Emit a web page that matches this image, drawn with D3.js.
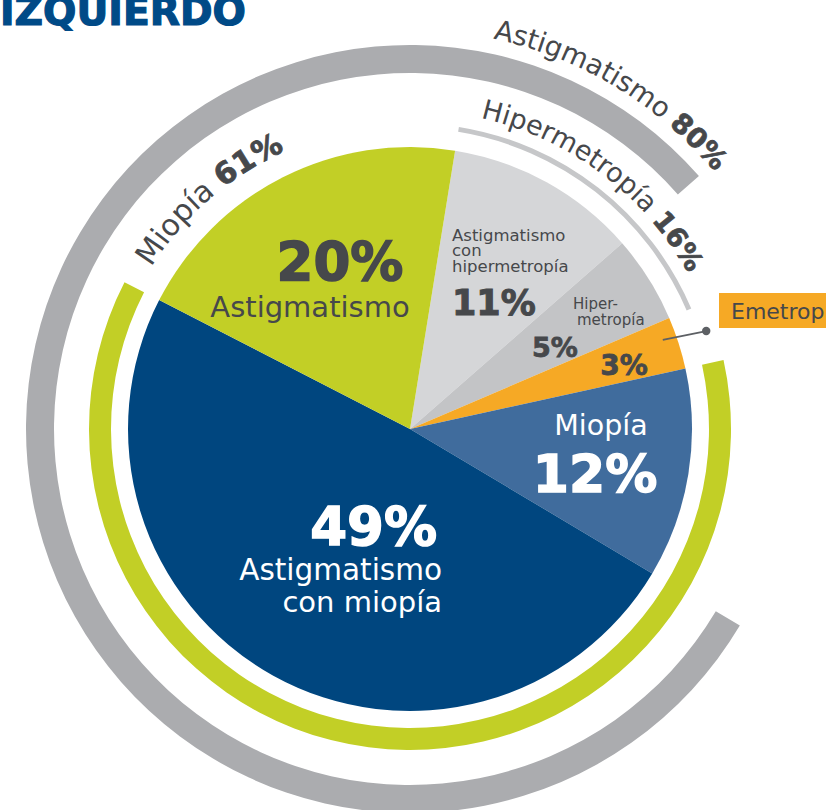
<!DOCTYPE html>
<html>
<head>
<meta charset="utf-8">
<script src="https://cdn.jsdelivr.net/npm/d3@7"></script>
<style>
  html, body { margin: 0; padding: 0; background: #ffffff; overflow: hidden; }
  svg { display: block; }
</style>
</head>
<body>
<svg id="chart"></svg>
<script>
/////////////// Data ///////////////
const categories = ["Astigmatismo con hipermetropía", "Hipermetropía", "Emetropía", "Miopía", "Astigmatismo con miopía", "Astigmatismo"];
const values = [11, 5, 3, 12, 49, 20];
const sliceColors = ["#d5d6d8", "#c3c4c6", "#f6a925", "#406c9d", "#00467f", "#c2cf26"];

// outer rings: which slices each one wraps
const groupNames = ["Astigmatismo", "Miopía", "Hipermetropía"];
const groupValues = [80, 61, 16];
const groupMembers = [[4, 5, 0], [3, 4], [0, 1]];

/////////////// Layout ///////////////
const width = 826, height = 810;
const cx = 410, cy = 429;
const rPie = 282;
const startDeg = 9.2;
const darkText = "#46484b";
const regFont = "'DejaVu Sans', Verdana, sans-serif";
const boldFont = "'DejaVu Sans', Verdana, sans-serif";
const heavy = 0.028; // extra stroke (per px of font size) to mimic a black weight

// ring styles per group
const ringStyle = [
  { inner: 356, outer: 384, color: "#abacaf", labelR: 399, labelDeg: 12, size: 27.5 },
  { inner: 299, outer: 321, color: "#c2cf26", labelR: 305, labelDeg: 302, size: 30 },
  { inner: 301, outer: 306, color: "#c6c7c9", labelR: 319, labelDeg: 12.8, size: 27 }
];

const rad = d => d * Math.PI / 180;
const pt = (deg, r) => [cx + r * Math.sin(rad(deg)), cy - r * Math.cos(rad(deg))];

const svg = d3.select("#chart").attr("width", width).attr("height", height);
const defs = svg.append("defs");

/////////////// Pie ///////////////
const pie = d3.pie().sort(null).value(d => d)
  .startAngle(rad(startDeg)).endAngle(rad(startDeg) + 2 * Math.PI);
const arcs = pie(values);
const arcGen = d3.arc().innerRadius(0).outerRadius(rPie);

const pieG = svg.append("g").attr("transform", `translate(${cx},${cy})`);
pieG.selectAll("path.slice")
  .data(arcs)
  .join("path")
    .attr("class", "slice")
    .attr("d", arcGen)
    .attr("fill", (d, i) => sliceColors[i]);

/////////////// Outer rings ///////////////
const groups = groupMembers.map((m, i) => {
  const s = arcs[m[0]].startAngle;
  let e = arcs[m[m.length - 1]].endAngle;
  if (e <= s) e += 2 * Math.PI;
  return { name: groupNames[i], value: groupValues[i], start: s, end: e, style: ringStyle[i] };
});

pieG.selectAll("path.ring")
  .data(groups)
  .join("path")
    .attr("class", "ring")
    .attr("d", d => d3.arc()
      .innerRadius(d.style.inner).outerRadius(d.style.outer)
      .startAngle(d.start).endAngle(d.end)())
    .attr("fill", d => d.style.color);

// curved labels for rings
groups.forEach((g, i) => {
  const a0 = g.style.labelDeg, r = g.style.labelR;
  const p0 = pt(a0, r), p1 = pt(a0 + 170, r);
  defs.append("path")
    .attr("id", "ringPath" + i)
    .attr("d", `M${p0[0]},${p0[1]} A${r},${r} 0 0 1 ${p1[0]},${p1[1]}`);
  const t = svg.append("text")
    .attr("fill", darkText)
    .attr("font-size", g.style.size)
    .append("textPath")
      .attr("href", "#ringPath" + i);
  t.append("tspan").attr("font-family", regFont).text(g.name + " ");
  t.append("tspan")
    .attr("font-family", boldFont).attr("font-weight", 700)
    .attr("stroke", darkText).attr("stroke-width", g.style.size * heavy)
    .text(g.value + "%");
});

/////////////// Slice labels ///////////////
// each entry: lines of text with position and style
const sliceLabels = [
  { x: 452, anchor: "start", fill: darkText, lines: [
    { t: "Astigmatismo", y: 241, size: 16.5, bold: false },
    { t: "con", y: 256, size: 16.5, bold: false },
    { t: "hipermetropía", y: 272, size: 16.5, bold: false },
    { t: values[0] + "%", y: 315, size: 35, bold: true } ] },
  { x: 573, anchor: "start", fill: darkText, lines: [
    { t: "Hiper-", y: 309, size: 15, bold: false },
    { t: "metropía", y: 325, size: 15, bold: false, dx: 4 } ] },
  { x: 555, anchor: "middle", fill: darkText, lines: [
    { t: values[1] + "%", y: 357, size: 27, bold: true } ] },
  { x: 624, anchor: "middle", fill: darkText, lines: [
    { t: values[2] + "%", y: 375, size: 28, bold: true } ] },
  { x: 601, anchor: "middle", fill: "#ffffff", lines: [
    { t: "Miopía", y: 435, size: 28.5, bold: false },
    { t: values[3] + "%", y: 492, size: 52, bold: true, dx: -6 } ] },
  { x: 442, anchor: "end", fill: "#ffffff", lines: [
    { t: values[4] + "%", y: 545, size: 53, bold: true, dx: -5 },
    { t: "Astigmatismo", y: 580, size: 29.5, bold: false },
    { t: "con miopía", y: 612, size: 29, bold: false } ] },
  { x: 340, anchor: "middle", fill: darkText, lines: [
    { t: values[5] + "%", y: 280, size: 53, bold: true } ] },
  { x: 310, anchor: "middle", fill: darkText, lines: [
    { t: "Astigmatismo", y: 317, size: 29, bold: false } ] }
];

sliceLabels.forEach(lab => {
  svg.append("g").selectAll("text")
    .data(lab.lines)
    .join("text")
      .attr("x", d => lab.x + (d.dx || 0))
      .attr("y", d => d.y)
      .attr("text-anchor", lab.anchor)
      .attr("fill", lab.fill)
      .attr("stroke", d => d.bold ? lab.fill : "none")
      .attr("stroke-width", d => d.bold ? d.size * heavy : 0)
      .attr("font-size", d => d.size)
      .attr("font-family", d => d.bold ? boldFont : regFont)
      .attr("font-weight", d => d.bold ? 700 : 400)
      .text(d => d.t);
});

/////////////// Emetropía callout ///////////////
const emet = arcs[2];
const midDeg = (emet.startAngle + emet.endAngle) / 2 * 180 / Math.PI;
const lineStart = pt(midDeg - 1.6, 268);
const lineEnd = pt(midDeg - 0.5, 312);
svg.append("line")
  .attr("x1", lineStart[0]).attr("y1", lineStart[1])
  .attr("x2", lineEnd[0]).attr("y2", lineEnd[1])
  .attr("stroke", "#5d6064").attr("stroke-width", 1.8);
svg.append("circle")
  .attr("cx", lineEnd[0]).attr("cy", lineEnd[1]).attr("r", 4.2)
  .attr("fill", "#5d6064");
svg.append("rect")
  .attr("x", 719).attr("y", 293).attr("width", 130).attr("height", 35)
  .attr("fill", "#f6a925");
svg.append("text")
  .attr("x", 731).attr("y", 319)
  .attr("fill", darkText)
  .attr("font-size", 22)
  .attr("font-family", regFont)
  .text(categories[2]);

/////////////// Title ///////////////
svg.append("text")
  .attr("x", 0).attr("y", 25)
  .attr("fill", "#004a87")
  .attr("stroke", "#004a87")
  .attr("stroke-width", 1.2)
  .attr("font-size", 39)
  .attr("font-family", boldFont)
  .attr("font-weight", 700)
  .attr("textLength", 246)
  .attr("lengthAdjust", "spacingAndGlyphs")
  .text("IZQUIERDO");
</script>
</body>
</html>
